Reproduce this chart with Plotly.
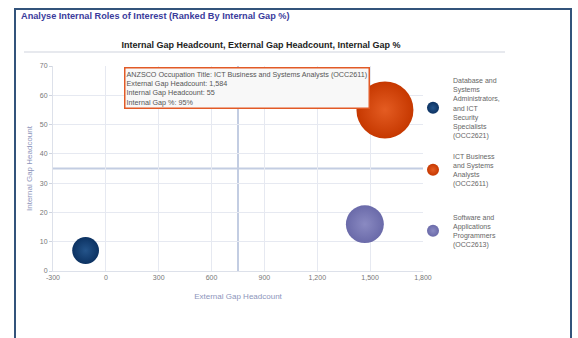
import plotly.graph_objects as go

# ---- data ----
occupations = [
    "Database and<br>Systems<br>Administrators,<br>and ICT<br>Security<br>Specialists<br>(OCC2621)",
    "ICT Business<br>and Systems<br>Analysts<br>(OCC2611)",
    "Software and<br>Applications<br>Programmers<br>(OCC2613)",
]
external_gap = [-115, 1584, 1470]
internal_gap = [7, 55, 16]
internal_gap_pct = [21, 95, 42]
edge_colors = ["#0c3262", "#c63800", "#6a6aa9"]
center_colors = ["#24548a", "#e45c22", "#8a8ac2"]

x_ticks = [-300, 0, 300, 600, 900, 1200, 1500, 1800]
x_ticklabels = ["-300", "0", "300", "600", "900", "1,200", "1,500", "1,800"]
y_ticks = [0, 10, 20, 30, 40, 50, 60, 70]
ref_x = 750
ref_y = 35

tooltip_lines = [
    "ANZSCO Occupation Title: ICT Business and Systems Analysts (OCC2611)",
    "External Gap Headcount: 1,584",
    "Internal Gap Headcount: 55",
    "Internal Gap %: 95%",
]

# ---- layout geometry (pixels) ----
W, H = 578, 338
L, R, T, B = 53, 423, 66, 271
pw, ph = R - L, B - T


def px(x):
    return (x - L) / pw


def py(y):
    return 1 - (y - T) / ph


sizeref = 2.0 * max(internal_gap_pct) / (57 ** 2)
legend_names = ["legend", "legend2", "legend3"]
legend_y_px = [108, 170, 231]

fig = go.Figure()
for i in range(len(occupations)):
    fig.add_trace(go.Scatter(
        x=[external_gap[i]], y=[internal_gap[i]],
        mode="markers",
        name=occupations[i],
        legend=legend_names[i],
        marker=dict(
            size=[internal_gap_pct[i]], sizemode="area", sizeref=sizeref,
            color=edge_colors[i], opacity=1,
            gradient=dict(type="radial", color=center_colors[i]),
            line=dict(width=0),
        ),
        hoverinfo="skip",
    ))

shapes = [
    dict(type="line", xref="x", yref="paper", x0=ref_x, x1=ref_x, y0=0, y1=1,
         line=dict(color="#c3cde2", width=2), layer="below"),
    dict(type="line", xref="paper", yref="y", x0=0, x1=1, y0=ref_y, y1=ref_y,
         line=dict(color="#c3cde2", width=2), layer="below"),
    dict(type="line", xref="paper", yref="paper", x0=px(24), x1=px(505),
         y0=py(52), y1=py(52), line=dict(color="#dfe2e8", width=1.5)),
    dict(type="rect", xref="paper", yref="paper", x0=px(15), x1=px(571),
         y0=py(350), y1=py(9), line=dict(color="#33537b", width=2),
         fillcolor="rgba(0,0,0,0)"),
]

annotations = [
    dict(text="<b>Analyse Internal Roles of Interest (Ranked By Internal Gap %)</b>",
         xref="paper", yref="paper", x=px(19), y=py(16),
         xanchor="left", yanchor="middle", showarrow=False,
         font=dict(family="Liberation Sans, Arial", size=9.2, color="#3b3c9c")),
    dict(text="<br>".join(tooltip_lines),
         xref="paper", yref="paper", x=px(124), y=py(67),
         xanchor="left", yanchor="top", align="left", showarrow=False,
         bgcolor="#f8f8f8", bordercolor="#e25a26", borderwidth=1.5, borderpad=1,
         font=dict(family="Liberation Sans, Arial", size=7.2, color="#555555")),
]

legend_common = dict(xanchor="left", yanchor="middle",
                     font=dict(family="Liberation Sans, Arial", size=7, color="#666666"),
                     itemsizing="constant", bgcolor="rgba(0,0,0,0)", valign="middle",
                     borderwidth=0)

fig.update_layout(
    width=W, height=H,
    margin=dict(l=L, r=W - R, t=T, b=H - B),
    paper_bgcolor="white", plot_bgcolor="white",
    font=dict(family="Liberation Sans, Arial", color="#666666"),
    title=dict(text="<b>Internal Gap Headcount, External Gap Headcount, Internal Gap %</b>",
               xref="container", yref="container", x=261 / W, y=1 - 45 / H,
               xanchor="center", yanchor="middle",
               font=dict(family="Liberation Sans, Arial", size=9, color="#222222")),
    xaxis=dict(range=[-300, 1800], tickvals=x_ticks, ticktext=x_ticklabels,
               showgrid=True, gridcolor="#e6e9f1", gridwidth=1, zeroline=False,
               showline=True, linecolor="#dde1ea",
               tickfont=dict(size=7, color="#777777"),
               title=dict(text="External Gap Headcount", standoff=12,
                          font=dict(size=8, color="#8d95bb"))),
    yaxis=dict(range=[0, 70], tickvals=y_ticks,
               showgrid=True, gridcolor="#e6e9f1", gridwidth=1, zeroline=False,
               showline=True, linecolor="#dde1ea",
               ticks="outside", ticklen=3, tickcolor="#cfd4df",
               tickfont=dict(size=7, color="#777777"),
               title=dict(text="Internal Gap Headcount", standoff=6,
                          font=dict(size=8, color="#8d95bb"))),
    legend=dict(x=px(413), y=py(legend_y_px[0]), **legend_common),
    legend2=dict(x=px(413), y=py(legend_y_px[1]), **legend_common),
    legend3=dict(x=px(413), y=py(legend_y_px[2]), **legend_common),
    showlegend=True,
    shapes=shapes,
    annotations=annotations,
)

fig.write_html("out.html")
